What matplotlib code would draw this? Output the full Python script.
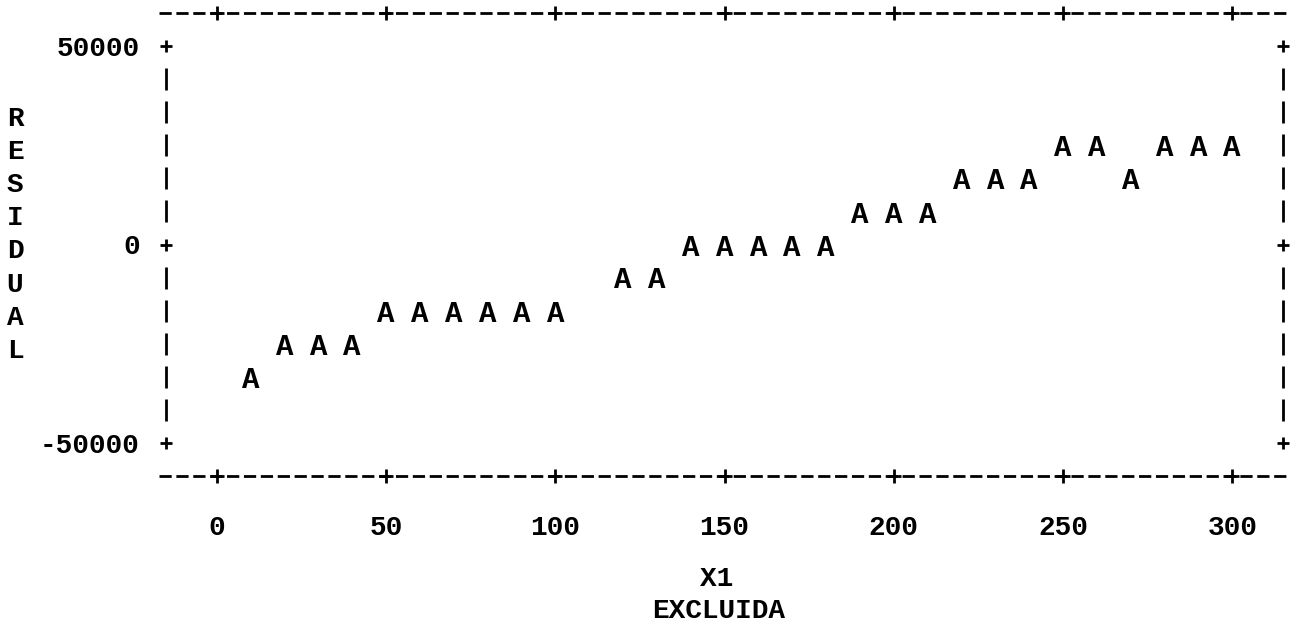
import numpy as np
import matplotlib
matplotlib.use('Agg')
import matplotlib.pyplot as plt
import matplotlib.transforms as mtransforms

# residual vs X1 (line printer plot, symbol A)
x1 = [10, 20, 30, 40, 50, 60, 70, 80, 90, 100,
      120, 130, 140, 150, 160, 170, 180, 190, 200, 210,
      220, 230, 240, 250, 260, 270, 280, 290, 300]
residual = [-33300, -25000, -25000, -25000,
            -16700, -16700, -16700, -16700, -16700, -16700,
            -8300, -8300, 0, 0, 0, 0, 0,
            8300, 8300, 8300, 16700, 16700, 16700,
            25000, 25000, 16700, 25000, 25000, 25000]
xticks = [0, 50, 100, 150, 200, 250, 300]
yticks = [-50000, 0, 50000]
ylabel_letters = list('RESIDUAL')

font = {'family': 'Liberation Mono', 'weight': 'bold'}
fs = 20
row = 50000 / 6          # one printer line
col = 5                  # one printer column in X1 units

fig = plt.figure(figsize=(12.9, 6.25), dpi=100)
W, H = 1290, 625
ax = fig.add_axes([166 / W, (H - 476) / H, (1283 - 166) / W, (476 - 13) / H])
ax.set_xlim(-3 * col, 63 * col)
ax.set_ylim(-7 * row, 7 * row)

# points
for x, y in zip(x1, residual):
    ax.text(x, y, 'A', ha='center', va='center_baseline', fontsize=fs + 1,
            color='black', **font)

# top / bottom dashed frame lines (dashes scale with linewidth)
for side in ['top', 'bottom']:
    sp = ax.spines[side]
    sp.set_linewidth(2)
    sp.set_linestyle((0, (4.4, 1.68)))
    sp.set_capstyle('butt')
    sp.set_bounds(-3.4 * col, 63.6 * col)
for side in ['left', 'right']:
    ax.spines[side].set_visible(False)

# vertical frame made of '|' pieces, '+' at the ticks
rows = np.array([r * row for r in range(-6, 7) if r % 6 != 0])
for xe in ax.get_xlim():
    ax.vlines([xe] * len(rows), rows - row / 3, rows + row / 3,
              color='black', lw=2, clip_on=False)
    ax.plot([xe] * len(yticks), yticks, ls='none', marker='+', ms=9, mew=2,
            color='black', clip_on=False)
for ye in ax.get_ylim():
    ax.plot(xticks, [ye] * len(xticks), ls='none', marker='+', ms=10, mew=2,
            color='black', clip_on=False)

ax.set_xticks(xticks)
ax.set_xticklabels([str(t) for t in xticks], **font, fontsize=fs)
ax.set_yticks(yticks)
ax.set_yticklabels([str(t) for t in yticks], **font, fontsize=fs)
ax.tick_params(axis='x', length=0, pad=28)
ax.tick_params(axis='y', length=0, pad=19)

# vertical axis label, one letter per printer line
trans = mtransforms.blended_transform_factory(fig.transFigure, ax.transData)
for i, ch in enumerate(ylabel_letters):
    ax.text(15 / W, (4 - i) * row - row * 0.12, ch, transform=trans, ha='center',
            va='center_baseline', fontsize=fs, clip_on=False, **font)

fig.text(717 / W, 1 - 576 / H, 'X1', ha='center', va='center_baseline', fontsize=fs, **font)
fig.text(719 / W, 1 - 608 / H, 'EXCLUIDA', ha='center', va='center_baseline', fontsize=fs, **font)

fig.savefig('out.png', dpi=100)
